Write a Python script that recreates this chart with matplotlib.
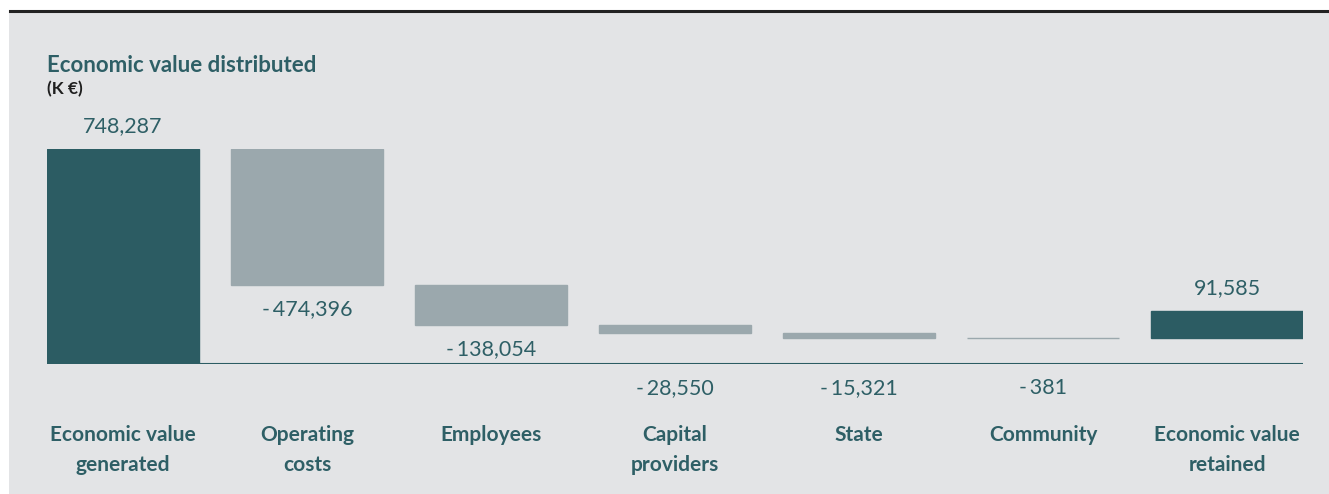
import matplotlib
matplotlib.use("Agg")
import matplotlib.pyplot as plt
from matplotlib.patches import Rectangle
from matplotlib.lines import Line2D
import numpy as np

# Data (K EUR)
categories = ["Economic value\ngenerated", "Operating\ncosts", "Employees",
              "Capital\nproviders", "State", "Community", "Economic value\nretained"]
values = [748287, -474396, -138054, -28550, -15321, -381, 91585]
kinds = ["total", "delta", "delta", "delta", "delta", "delta", "total"]

teal = "#2c5c63"
grey_bar = "#9ba8ad"
text_teal = "#2e5f66"
bg = "#e3e4e6"

plt.rcParams['font.family'] = ['Lato', 'DejaVu Sans']

W, H = 1329, 494
fig = plt.figure(figsize=(W / 100, H / 100), dpi=100)
fig.patch.set_facecolor("white")

# grey panel and black top rule
fig.patches.append(Rectangle((9 / W, 0), 1, (H - 12) / H, transform=fig.transFigure,
                             facecolor=bg, edgecolor="none", zorder=-5))
fig.lines.append(Line2D([10 / W, 1], [(H - 11.5) / H] * 2, transform=fig.transFigure,
                        color="#222222", linewidth=2.2, zorder=-4))

ax = fig.add_axes([47 / W, (H - 364) / H, 1256 / W, (364 - 149) / H])
ax.set_zorder(2)
ax.set_facecolor("none")
ax.axis("off")

x = np.arange(len(categories))
bw = 0.826
ax.set_xlim(-bw / 2, len(categories) - 1 + bw / 2)
ax.set_ylim(0, values[0])

px = 0.72  # points per pixel
level = 0
for i, (v, k) in enumerate(zip(values, kinds)):
    if k == "total" and i == 0:
        bottom, height, color = 0, v, teal
        level = v
    elif k == "total":
        # retained bar sits on the last running level
        bottom, height, color = level, v, teal
    else:
        bottom, height, color = level + v, -v, grey_bar
        level = level + v
    ax.bar(x[i], height, bottom=bottom, width=bw, color=color,
           edgecolor=color, linewidth=1.0, zorder=2)

    if v > 0:
        ax.annotate(f"{v:,}", (x[i], bottom + height), xytext=(0, 23 * px),
                    textcoords="offset points", ha="center", va="center",
                    fontsize=15.5, color=text_teal)
    else:
        anchor = bottom if bottom > 120000 else 0
        ax.annotate(f"-\u2009{-v:,}", (x[i], anchor), xytext=(0, -24 * px),
                    textcoords="offset points", ha="center", va="center",
                    fontsize=15.5, color=text_teal)

    ax.annotate(categories[i], (x[i], 0), xytext=(0, -61 * px),
                textcoords="offset points", ha="center", va="top",
                fontsize=15, fontweight="bold", color=text_teal,
                linespacing=1.65, annotation_clip=False)

ax.axhline(0, color=teal, linewidth=1.5, zorder=3)

fig.text(47 / W, 1 - 65 / H, "Economic value distributed", ha="left", va="center",
         fontsize=16, fontweight="bold", color=text_teal)
fig.text(47 / W, 1 - 89 / H, "(K \u20ac)", ha="left", va="center",
         fontsize=12.5, fontweight="bold", color="#1f1f1f")

plt.savefig("out.png", dpi=100, facecolor=fig.get_facecolor())
